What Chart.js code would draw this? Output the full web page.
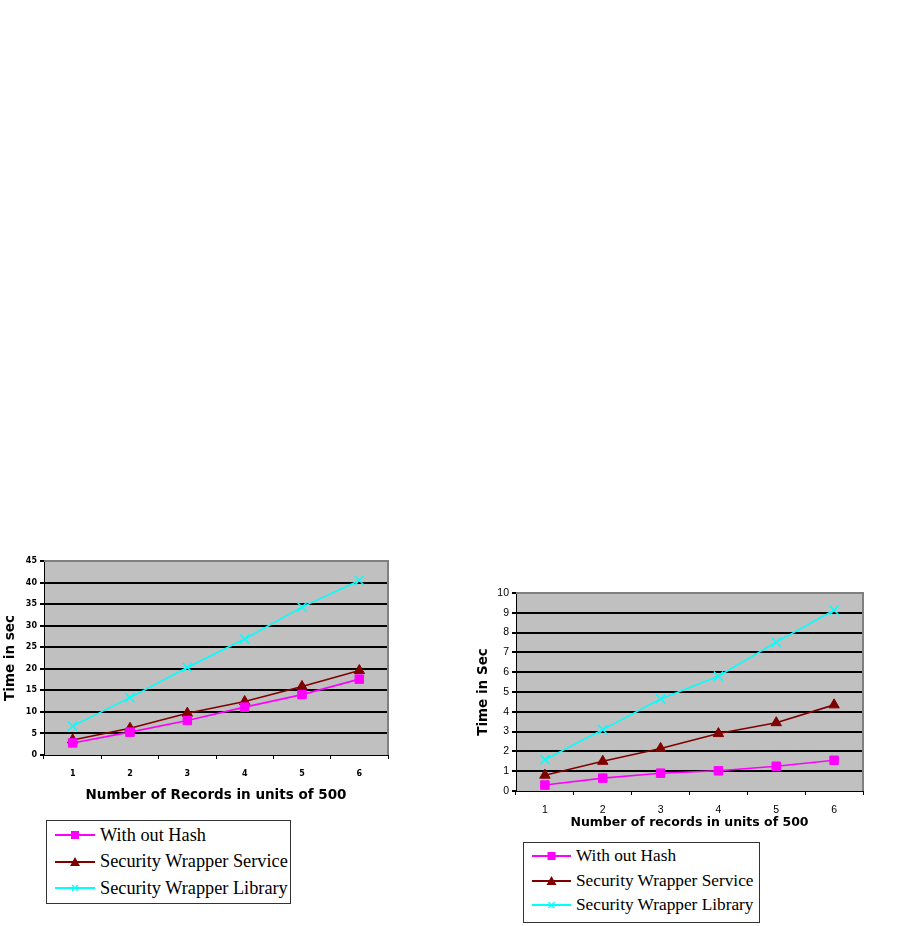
<!DOCTYPE html>
<html>
<head>
<meta charset="utf-8">
<script src="https://cdn.jsdelivr.net/npm/chart.js@4.4.1/dist/chart.umd.min.js"></script>
<style>
  html, body { margin: 0; padding: 0; background: #fff; }
  body { width: 915px; height: 926px; position: relative; overflow: hidden; }
  .wrap { position: absolute; }
  .legend {
    position: absolute; box-sizing: border-box;
    border: 1px solid #333; background: #fff;
    font-family: "Liberation Serif", "Times New Roman", serif; color: #000;
  }
  .legend .row { display: flex; align-items: center; white-space: nowrap; }
  .legend svg { flex-shrink: 0; }
</style>
</head>
<body>
<div class="wrap" id="left-wrap" style="left:0;top:550px;width:400px;height:260px;"><canvas id="left-chart"></canvas></div>
<div class="wrap" id="right-wrap" style="left:460px;top:580px;width:440px;height:250px;"><canvas id="right-chart"></canvas></div>
<div class="legend" id="left-legend" style="left:46px;top:820px;width:245px;height:84px;padding:1px 0 0 8px;font-size:18.3px;"></div>
<div class="legend" id="right-legend" style="left:523px;top:842px;width:237px;height:81px;padding:1px 0 0 8px;font-size:17.3px;"></div>
<script>
const categories = ['1', '2', '3', '4', '5', '6'];
const seriesLabels = ['With out Hash', 'Security Wrapper Service', 'Security Wrapper Library'];

// left chart: Number of Records in units of 500
const leftWithoutHash = [2.8, 5.3, 8.0, 11.1, 14.0, 17.6];
const leftService = [3.5, 6.2, 9.7, 12.4, 15.9, 19.6];
const leftLibrary = [6.7, 13.3, 20.3, 26.9, 34.3, 40.5];
const leftTicks = [0, 5, 10, 15, 20, 25, 30, 35, 40, 45];

// right chart: Number of records in units of 500
const rightWithoutHash = [0.3, 0.65, 0.9, 1.02, 1.25, 1.55];
const rightService = [0.8, 1.5, 2.15, 2.9, 3.45, 4.35];
const rightLibrary = [1.58, 3.1, 4.65, 5.8, 7.52, 9.13];
const rightTicks = [0, 1, 2, 3, 4, 5, 6, 7, 8, 9, 10];

const colors = ['#FF00FF', '#800000', '#00FFFF'];
const pointStyles = ['rect', 'triangle', 'crossRot'];
const titleFamily = 'DejaVu Sans, Verdana, sans-serif';

const plotBg = {
  id: 'plotBg',
  beforeDraw(chart) {
    const { ctx, chartArea: a } = chart;
    ctx.save();
    ctx.fillStyle = '#C0C0C0';
    ctx.fillRect(a.left, a.top, a.right - a.left, a.bottom - a.top);
    ctx.restore();
  },
  beforeDatasetsDraw(chart) {
    const { ctx, chartArea: a } = chart;
    ctx.save();
    ctx.strokeStyle = '#808080';
    ctx.lineWidth = 2;
    ctx.beginPath();
    ctx.moveTo(a.left, a.top);
    ctx.lineTo(a.right, a.top);
    ctx.lineTo(a.right, a.bottom);
    ctx.stroke();
    ctx.restore();
  }
};

function makeDatasets(values, radius) {
  return values.map((v, i) => ({
    label: seriesLabels[i],
    data: v,
    borderColor: colors[i],
    backgroundColor: colors[i],
    pointBackgroundColor: colors[i],
    pointBorderColor: colors[i],
    pointStyle: pointStyles[i],
    pointRadius: i === 2 ? radius + 0.5 : radius,
    pointBorderWidth: i === 2 ? 1.5 : 1,
    borderWidth: 1.6,
    tension: 0
  }));
}

function makeChart(id, cfg) {
  const maxV = cfg.ticks[cfg.ticks.length - 1];
  return new Chart(document.getElementById(id), {
    type: 'line',
    data: { labels: categories, datasets: makeDatasets(cfg.values, cfg.radius) },
    plugins: [plotBg],
    options: {
      responsive: true,
      maintainAspectRatio: false,
      animation: false,
      layout: { padding: cfg.padding },
      plugins: { legend: { display: false }, tooltip: { enabled: false } },
      scales: {
        x: {
          offset: true,
          grid: { offset: true, drawOnChartArea: false, drawTicks: true, tickLength: 4, tickColor: '#000', lineWidth: 1 },
          border: { color: '#000', width: 1 },
          ticks: { color: '#000', padding: cfg.xTickPad, font: cfg.tickFont },
          title: {
            display: true, text: cfg.xTitle, color: '#000',
            font: cfg.xTitleFont, padding: { top: 0, bottom: cfg.xTitlePad }
          },
          afterFit: s => { s.height = cfg.xHeight; }
        },
        y: {
          min: 0, max: maxV,
          afterBuildTicks: s => { s.ticks = cfg.ticks.map(v => ({ value: v })); },
          grid: {
            color: c => (c.tick && c.tick.value === maxV) || (c.tick && c.tick.value === 0) ? 'rgba(0,0,0,0)' : '#000',
            tickColor: '#000', lineWidth: 2, tickLength: 4
          },
          border: { color: '#000', width: 1 },
          ticks: { color: '#000', padding: 3, font: cfg.tickFont },
          title: {
            display: true, text: cfg.yTitle, color: '#000',
            font: { family: titleFamily, size: 13.5, weight: 'bold' },
            padding: { top: cfg.yTitlePad, bottom: 0 }
          },
          afterFit: s => { s.width = cfg.yWidth; }
        }
      }
    }
  });
}

makeChart('left-chart', {
  values: [leftWithoutHash, leftService, leftLibrary],
  ticks: leftTicks,
  radius: 6,
  padding: { top: 11, right: 12, left: 0, bottom: 0 },
  yWidth: 44, xHeight: 55,
  xTickPad: 10, xTitlePad: 6, yTitlePad: 2,
  tickFont: { family: 'DejaVu Sans, Verdana, sans-serif', size: 8, weight: 'bold' },
  xTitleFont: { family: titleFamily, size: 13.5, weight: 'bold' },
  xTitle: 'Number of Records in units of 500',
  yTitle: 'Time in sec'
});

makeChart('right-chart', {
  values: [rightWithoutHash, rightService, rightLibrary],
  ticks: rightTicks,
  radius: 6,
  padding: { top: 13, right: 37, left: 0, bottom: 0 },
  yWidth: 56, xHeight: 39,
  xTickPad: 9, xTitlePad: 0, yTitlePad: 15,
  tickFont: { family: 'Liberation Sans, Arial, sans-serif', size: 10.5 },
  xTitleFont: { family: titleFamily, size: 12.5, weight: 'bold' },
  xTitle: 'Number of records in units of 500',
  yTitle: 'Time in Sec'
});

function marker(i, cx, cy) {
  const c = colors[i];
  if (pointStyles[i] === 'rect') return `<rect x="${cx - 4}" y="${cy - 4}" width="8" height="8" fill="${c}"/>`;
  if (pointStyles[i] === 'triangle') return `<polygon points="${cx},${cy - 5} ${cx + 5},${cy + 4} ${cx - 5},${cy + 4}" fill="${c}"/>`;
  return `<path d="M${cx - 3} ${cy - 3} L${cx + 3} ${cy + 3} M${cx + 3} ${cy - 3} L${cx - 3} ${cy + 3}" stroke="${c}" stroke-width="1.3"/>`;
}

function buildLegend(id, rowH, sampleW, gap) {
  document.getElementById(id).innerHTML = seriesLabels.map((label, i) => `
    <div class="row" style="height:${rowH}px;">
      <svg width="${sampleW}" height="14" style="margin-right:${gap}px">
        <line x1="0" y1="7" x2="${sampleW}" y2="7" stroke="${colors[i]}" stroke-width="1.8"/>
        ${marker(i, sampleW / 2, 7)}
      </svg>
      <span>${label}</span>
    </div>`).join('');
}

buildLegend('left-legend', 26.5, 40, 5);
buildLegend('right-legend', 24.5, 39, 5);
</script>
</body>
</html>
